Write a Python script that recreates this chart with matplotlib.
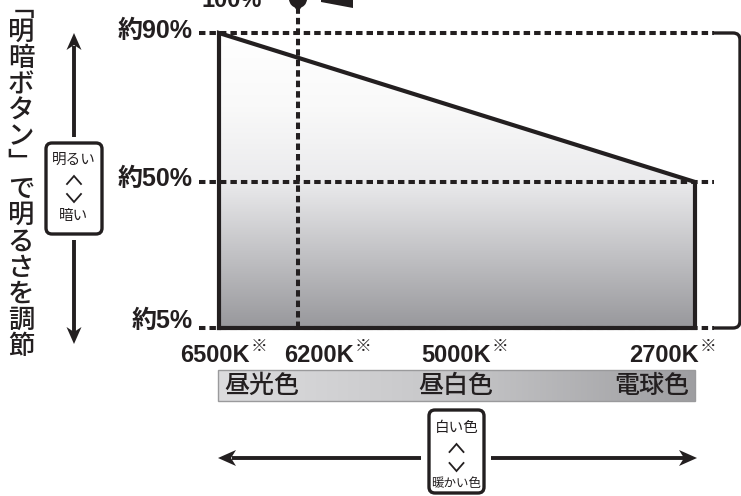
import numpy as np
import matplotlib
matplotlib.use("Agg")
import matplotlib.pyplot as plt
from matplotlib.patches import Polygon, Circle, FancyBboxPatch, Rectangle
from matplotlib.colors import LinearSegmentedColormap
from matplotlib.path import Path
from matplotlib.patches import PathPatch

# ---- data ----
temps_k = [6500, 6200, 5000, 2700]
temp_labels = ["6500K", "6200K", "5000K", "2700K"]
line_temps = [6500, 2700]
line_brightness = [90, 50]
levels = [90, 50, 5]
level_labels = ["約90%", "約50%", "約5%"]
default_temp = 6200
color_names = ["昼光色", "昼白色", "電球色"]
title_v = "﹁明暗ボタン﹂で明るさを調節"
box_bright = ["明るい", "暗い"]
box_color = ["白い色", "暖かい色"]

INK = "#231f20"
JP = ["Noto Sans CJK JP", "DejaVu Sans"]
LAT = ["Liberation Sans", "Noto Sans CJK JP", "DejaVu Sans"]

# ---- layout (pixels) ----
W, H = 741, 496
# kelvin -> pixel anchors (kelvin increasing)
X_ANCHOR_K = np.array([2700, 6200, 6500], float)
X_ANCHOR_PX = np.array([695, 298, 219], float)
Y_ANCHOR_PCT = np.array([5, 50, 90], float)
Y_ANCHOR_PX = np.array([328, 182, 33], float)


def kx(k):
    # increasing in kelvin: returns minus pixel
    return np.interp(np.asarray(k, float), X_ANCHOR_K, -X_ANCHOR_PX)


def kx_inv(t):
    return np.interp(np.asarray(t, float), -X_ANCHOR_PX, X_ANCHOR_K)


def by(v):
    return -np.interp(np.asarray(v, float), Y_ANCHOR_PCT, Y_ANCHOR_PX)


def by_inv(t):
    return np.interp(-np.asarray(t, float), Y_ANCHOR_PX[::-1], Y_ANCHOR_PCT[::-1])


def head(ax, tip, d, length=17, hw=7.5, notch=5):
    # stealth style arrow head, d = unit direction of the arrow
    tx, ty = tip
    dx, dy = d
    px, py = -dy, dx
    bx, by_ = tx - dx * length, ty - dy * length
    pts = [(tx, ty), (bx + px * hw, by_ + py * hw),
           (tx - dx * (length - notch), ty - dy * (length - notch)),
           (bx - px * hw, by_ - py * hw)]
    ax.add_patch(Polygon(pts, closed=True, color=INK, lw=0))


def chevron(ax, cx, cy, up, hw=7, h=8):
    s = -1 if up else 1
    ax.plot([cx - hw, cx, cx + hw], [cy - s * h / 2, cy + s * h / 2, cy - s * h / 2],
            color=INK, lw=1.3, solid_joinstyle="miter")


fig = plt.figure(figsize=(W / 100, H / 100), dpi=100)
ax0 = fig.add_axes([0, 0, 1, 1])
ax0.set_xlim(0, W)
ax0.set_ylim(H, 0)
ax0.axis("off")

# chart axes
x0, x1 = 219, 695
y_top, y_bot = 33, 328
axc = fig.add_axes([x0 / W, (H - y_bot) / H, (x1 - x0) / W, (y_bot - y_top) / H])
axc.patch.set_alpha(0)
axc.set_xscale("function", functions=(kx, kx_inv))
axc.set_yscale("function", functions=(by, by_inv))

# gradient fill under the line
cmap = LinearSegmentedColormap.from_list(
    "g", [(0, "#98989c"), (0.5, "#ebebed"), (0.75, "#f9f9f9"), (1, "#ffffff")])
grad = np.linspace(0, 1, 256).reshape(-1, 1)
im = axc.imshow(grad, extent=(0, 1, 0, 1), transform=axc.transAxes,
                aspect="auto", cmap=cmap, origin="lower", zorder=1)
floor = min(levels)
poly_x = [line_temps[0], line_temps[0], line_temps[1], line_temps[1]]
poly_y = [floor, line_brightness[0], line_brightness[1], floor]
clip = axc.fill(poly_x, poly_y, facecolor="none", edgecolor="none")[0]
im.set_clip_path(clip)

axc.set_xlim(max(temps_k), min(temps_k))
axc.set_ylim(floor, max(levels))
axc.set_xticks([])
axc.set_yticks([])
for s in axc.spines.values():
    s.set_visible(False)

# dashed guide lines
dash = dict(color=INK, lw=2.9, dashes=(1.6, 1.0), dash_capstyle="butt",
            clip_on=False, zorder=3)
fx_l = (199 - x0) / (x1 - x0)
fx_r = (714 - x0) / (x1 - x0)
for lv in levels:
    axc.plot([fx_l, fx_r], [lv, lv], transform=axc.get_yaxis_transform(), **dash)
fy_top = (y_bot - 8) / (y_bot - y_top)
axc.plot([default_temp, default_temp], [0, fy_top],
         transform=axc.get_xaxis_transform(), **dash)

# outline
axc.plot(poly_x + [poly_x[0]], poly_y + [poly_y[0]], color=INK, lw=3,
         solid_joinstyle="miter", clip_on=False, zorder=4)

# right bracket
r = 7
verts = [(714, 33), (740 - r, 33), (740, 33), (740, 33 + r), (740, 328 - r),
         (740, 328), (740 - r, 328), (714, 328)]
codes = [Path.MOVETO, Path.LINETO, Path.CURVE3, Path.CURVE3, Path.LINETO,
         Path.CURVE3, Path.CURVE3, Path.LINETO]
ax0.add_patch(PathPatch(Path(verts, codes), fill=False, ec=INK, lw=2.4))

# y labels
y_off = [-2, -3, -7]
for lv, lab, off in zip(levels, level_labels, y_off):
    ax0.text(193, -by(lv) + off, lab, ha="right", va="center", fontsize=18,
             fontweight="bold", family=LAT, color=INK)

# x labels
lab_right = [250, 354, 491, 699]
for lab, xr in zip(temp_labels, lab_right):
    ax0.text(xr, 355, lab, ha="right", va="center", fontsize=17,
             fontweight="bold", family=LAT, color=INK)
    ax0.text(xr + 1, 346, "※", ha="left", va="center", fontsize=12,
             family=JP, color=INK)

# top: 100% and pin
pin_x = -kx(default_temp)
ax0.text(232, 7, "100%", ha="center", va="baseline", fontsize=17,
         fontweight="bold", family=LAT, color=INK)
ax0.add_patch(Circle((pin_x, -1), 9, color=INK, lw=0))
ax0.add_patch(Polygon([(pin_x - 6.5, 3), (pin_x + 6.5, 3), (pin_x, 12)],
                      closed=True, color=INK, lw=0))
ax0.add_patch(Polygon([(321, 0), (353, 0), (353, 8), (321, 2)], closed=True,
                      color=INK, lw=0))

# color-name bar
bar = np.linspace(0, 1, 256).reshape(1, -1)
bcmap = LinearSegmentedColormap.from_list("b", ["#dcdcde", "#c6c6c8", "#9e9ea1"])
ax0.imshow(bar, extent=(218, 695, 401, 370), cmap=bcmap, aspect="auto", zorder=1)
ax0.add_patch(Rectangle((218, 370), 477, 31, fill=False, ec="#9a9a9c", lw=1, zorder=2))
ax0.set_xlim(0, W)
ax0.set_ylim(H, 0)
name_x = [(224, "left"), (456, "center"), (689, "right")]
for nm, (xx, ha) in zip(color_names, name_x):
    ax0.text(xx, 386, nm, ha=ha, va="center", fontsize=18, family=JP,
             fontweight="medium", color=INK, zorder=3)

# vertical title
for i, ch in enumerate(title_v):
    ax0.text(21, 8 if i == 0 else 6 + 26.2 * i, ch, ha="center",
             va="center", fontsize=19, family=JP, fontweight="medium", color=INK)

# brightness arrow and box
ax0.plot([74, 74], [46, 137], color=INK, lw=2.8, solid_capstyle="butt")
ax0.plot([74, 74], [240, 338], color=INK, lw=2.8, solid_capstyle="butt")
head(ax0, (74, 33), (0, -1))
head(ax0, (74, 344), (0, 1))
ax0.add_patch(FancyBboxPatch((46, 143), 56, 91,
                             boxstyle="round,pad=0,rounding_size=6",
                             fc="white", ec=INK, lw=2.4))
ax0.text(74, 160, box_bright[0], ha="center", va="center", fontsize=10.5,
         family=JP, color=INK)
chevron(ax0, 74, 180, True)
chevron(ax0, 74, 198, False)
ax0.text(74, 216, box_bright[1], ha="center", va="center", fontsize=10.5,
         family=JP, color=INK)

# color arrow and box
ax0.plot([232, 421], [458, 458], color=INK, lw=2.8, solid_capstyle="butt")
ax0.plot([491, 684], [458, 458], color=INK, lw=2.8, solid_capstyle="butt")
head(ax0, (218, 458), (-1, 0), length=18, hw=8)
head(ax0, (697, 458), (1, 0), length=18, hw=8)
ax0.add_patch(FancyBboxPatch((429, 410), 55, 83,
                             boxstyle="round,pad=0,rounding_size=6",
                             fc="white", ec=INK, lw=2.4))
ax0.text(456.5, 428, box_color[0], ha="center", va="center", fontsize=10.5,
         family=JP, color=INK)
chevron(ax0, 456.5, 448, True)
chevron(ax0, 456.5, 467, False)
ax0.text(456.5, 484, box_color[1], ha="center", va="center", fontsize=9,
         family=JP, color=INK)

fig.savefig("out.png", dpi=100)
